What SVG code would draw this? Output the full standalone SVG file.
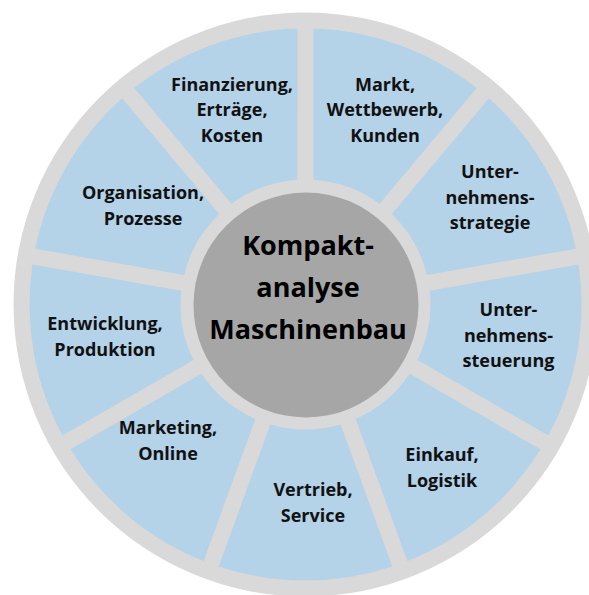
<svg xmlns="http://www.w3.org/2000/svg" xmlns:xlink="http://www.w3.org/1999/xlink" width="589" height="595" viewBox="0 0 589 595">
<style>
.seg{fill:#B4D2E8;}
.lbl{font-family:"Open Sans","Liberation Sans",sans-serif;font-weight:bold;font-size:18px;fill:#111;text-anchor:middle;font-variant-ligatures:none;}
.ctr{font-family:"Open Sans","Liberation Sans",sans-serif;font-weight:bold;font-size:27px;fill:#000;text-anchor:middle;font-variant-ligatures:none;}
</style>
<defs>
<path id="segshape" d="M313.5,28.62 A276,276 0 0 1 476.71,88.03 L379.56,203.8 A125,125 0 0 0 313.5,179.76 Z"/>
</defs>
<rect width="589" height="595" fill="#FFFFFF"/>
<circle id="ring" cx="305.5" cy="304.5" r="292" fill="#D9D9D9"/>
<g id="connectors"></g>
<g id="markt">
<use xlink:href="#segshape" class="seg"/>
<text class="lbl"><tspan x="385" y="90.5">Markt,</tspan><tspan x="385" y="116">Wettbewerb,</tspan><tspan x="385" y="141.7">Kunden</tspan></text>
</g>
<g id="strategie">
<use xlink:href="#segshape" class="seg" transform="rotate(40 305.5 304.5)"/>
<text class="lbl"><tspan x="490" y="178">Unter-</tspan><tspan x="490" y="203.5">nehmens-</tspan><tspan x="490" y="229">strategie</tspan></text>
</g>
<g id="steuerung">
<use xlink:href="#segshape" class="seg" transform="rotate(80 305.5 304.5)"/>
<text class="lbl"><tspan x="508.5" y="316">Unter-</tspan><tspan x="508.5" y="341.5">nehmens-</tspan><tspan x="508.5" y="367">steuerung</tspan></text>
</g>
<g id="einkauf">
<use xlink:href="#segshape" class="seg" transform="rotate(120 305.5 304.5)"/>
<text class="lbl"><tspan x="442" y="461">Einkauf,</tspan><tspan x="442" y="486.5">Logistik</tspan></text>
</g>
<g id="vertrieb">
<use xlink:href="#segshape" class="seg" transform="rotate(160 305.5 304.5)"/>
<text class="lbl"><tspan x="313" y="496">Vertrieb,</tspan><tspan x="313" y="521.5">Service</tspan></text>
</g>
<g id="marketing">
<use xlink:href="#segshape" class="seg" transform="rotate(200 305.5 304.5)"/>
<text class="lbl"><tspan x="168" y="434">Marketing,</tspan><tspan x="168" y="459.5">Online</tspan></text>
</g>
<g id="entwicklung">
<use xlink:href="#segshape" class="seg" transform="rotate(240 305.5 304.5)"/>
<text class="lbl"><tspan x="105" y="330">Entwicklung,</tspan><tspan x="105" y="355.5">Produktion</tspan></text>
</g>
<g id="organisation">
<use xlink:href="#segshape" class="seg" transform="rotate(280 305.5 304.5)"/>
<text class="lbl"><tspan x="143" y="199">Organisation,</tspan><tspan x="143" y="224.5">Prozesse</tspan></text>
</g>
<g id="finanzierung">
<use xlink:href="#segshape" class="seg" transform="rotate(320 305.5 304.5)"/>
<text class="lbl"><tspan x="232" y="90.5">Finanzierung,</tspan><tspan x="232" y="116">Erträge,</tspan><tspan x="232" y="141.7">Kosten</tspan></text>
</g>
<g id="center">
<circle cx="306" cy="305" r="112.5" fill="#A6A6A6"/>
<text class="ctr"><tspan x="308" y="255">Kompakt-</tspan><tspan x="308" y="297.3">analyse</tspan><tspan x="308" y="339.3">Maschinenbau</tspan></text>
</g>
</svg>
